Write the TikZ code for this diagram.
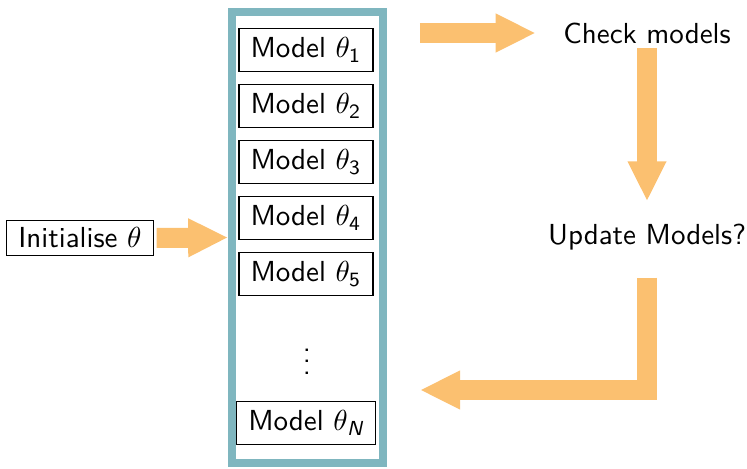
\documentclass[tikz,border=0pt]{standalone}
\usepackage{amsmath,amssymb}
\usepackage{tikz}
\usetikzlibrary{arrows.meta}
\renewcommand{\familydefault}{\sfdefault}
\definecolor{fatorange}{RGB}{251,192,112}
\definecolor{stackteal}{RGB}{127,182,191}
\tikzset{
  modelbox/.style={draw, inner xsep=4pt, inner ysep=3.2pt},
  fatarrow/.style={draw=fatorange, line width=6.9pt, line join=miter,
    -{Triangle[width=12.4pt,length=13.8pt]}}
}
\begin{document}
\begin{tikzpicture}[x=0.345pt,y=-0.345pt]
\useasboundingbox (0,0) rectangle (747,468);
% the stack of models
\node[draw=stackteal, line width=2.76pt, minimum width=52pt, minimum height=155.6pt] (stack) at (307.5,237.5) {};
\foreach \i in {1,...,5}
  \node[modelbox] (m\i) at (306,{50+56*(\i-1)}) {Model $\theta_{\mathsf{\i}}$};
\node (dots) at (307,353) {$\vdots$};
\node[modelbox] (mN) at (306,423) {Model $\theta_{\textsf{\slshape N}}$};
% the loop
\node[draw, inner xsep=4pt, inner ysep=2.6pt] (init) at (80,238) {Initialise $\theta$};
\node (check) at (647,33) {Check models};
\node (update) at (647,237) {Update Models?};
\coordinate (back) at (420,390);
\draw[fatarrow, shorten <=1pt] (init.east) -- (stack.west);
\draw[fatarrow, shorten <=11.4pt, shorten >=6pt] (stack.east |- check) -- (check.west);
\draw[fatarrow, shorten <=-2pt, shorten >=4.3pt] (check.south) -- (update.north);
\draw[fatarrow, shorten <=6pt] (update.south) |- (back);
\end{tikzpicture}
\end{document}
